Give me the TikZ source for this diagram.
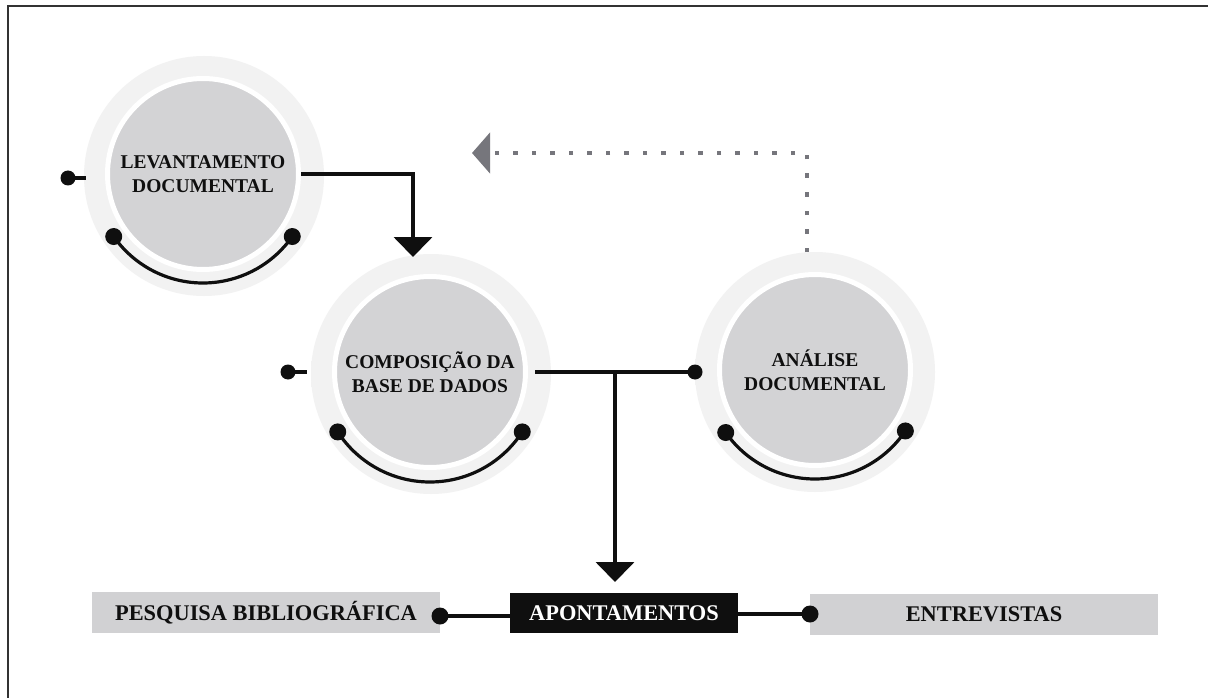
\documentclass[tikz,border=0pt]{standalone}
\usepackage{fontspec}
\setmainfont{Liberation Serif}
\usetikzlibrary{arrows.meta,calc}

\definecolor{disc}{RGB}{211,211,213}
\definecolor{tag}{RGB}{209,209,211}
\definecolor{ink}{RGB}{15,15,15}
\definecolor{dotgray}{RGB}{118,118,124}
\definecolor{frame}{RGB}{50,50,50}

% soft grey ring that fades out towards the rim
\pgfdeclareradialshading{halo}{\pgfpoint{0bp}{0bp}}{%
  color(0bp)=(black!5); color(38bp)=(black!5); color(44bp)=(black!3); color(50bp)=(white)}

\begin{document}
\begin{tikzpicture}[x=1pt,y=-1pt,
  haloring/.style={circle, shade, shading=halo, minimum size=240pt, inner sep=0pt},
  disc/.style={circle, fill=disc, draw=white, line width=5pt, minimum size=191pt,
    inner sep=0pt, align=center, text=ink,
    font=\fontsize{19.5}{23.5}\selectfont\bfseries},
  pin/.style={circle, fill=ink, inner sep=0pt, minimum size=15pt},
  bigpin/.style={circle, fill=ink, inner sep=0pt, minimum size=17pt},
  wire/.style={draw=ink, line width=4pt},
  bow/.style={draw=ink, line width=3.2pt},
  tagbox/.style={fill=tag, minimum width=348pt, minimum height=41pt, inner sep=0pt,
    text=ink, font=\fontsize{22.4}{26}\selectfont\bfseries},
  keybox/.style={fill=ink, minimum width=228pt, minimum height=40pt, inner sep=0pt,
    text=white, font=\fontsize{22.4}{26}\selectfont\bfseries},
  drop/.style={-{Triangle[width=38pt,length=20pt]}},
  backlink/.style={draw=dotgray, line width=4.5pt, dash pattern=on 4.5pt off 14pt,
    -{Triangle[width=40pt,length=18pt]}},
]
\useasboundingbox (0,0) rectangle (1208,698);
\fill[white] (0,0) rectangle (1208,698);

% page frame (top and left edges)
\draw[frame, line width=2pt] (7.5,698) -- (7.5,6.5) -- (1208,6.5);

% ---------- halos ----------
\node[haloring] (lev-h)  at (204,176) {};
\node[haloring] (comp-h) at (431,374) {};
\node[haloring] (ana-h)  at (815,372) {};

% ---------- dotted feedback link ----------
\coordinate (ana-top) at (807,252);
\coordinate (back-turn) at (807,153);
\coordinate (back-end) at (472,153);
\draw[backlink] (ana-top) -- (back-turn) -- (back-end);

% ---------- discs ----------
\node[disc] (lev)  at (203,174) {LEVANTAMENTO\\DOCUMENTAL};
\node[disc] (comp) at (430,372) {COMPOSIÇÃO DA\\BASE DE DADOS};
\node[disc] (ana)  at (815,370) {ANÁLISE\\DOCUMENTAL};

% ---------- lower arcs with end pins ----------
\coordinate (lev-a)  at ($(lev)+(145:109)$);
\coordinate (lev-b)  at ($(lev)+(35:109)$);
\coordinate (comp-a) at ($(comp)+(147:110)$);
\coordinate (comp-b) at ($(comp)+(33:110)$);
\coordinate (ana-a)  at ($(ana)+(145:109)$);
\coordinate (ana-b)  at ($(ana)+(34:109)$);
\draw[bow] (lev-a)  arc[start angle=145, end angle=35, radius=109];
\draw[bow] (comp-a) arc[start angle=147, end angle=33, radius=110];
\draw[bow] (ana-a)  arc[start angle=145, end angle=34, radius=109];
\node[bigpin] (lev-pa)  at (lev-a)  {};
\node[bigpin] (lev-pb)  at (lev-b)  {};
\node[bigpin] (comp-pa) at (comp-a) {};
\node[bigpin] (comp-pb) at (comp-b) {};
\node[bigpin] (ana-pa)  at (ana-a)  {};
\node[bigpin] (ana-pb)  at (ana-b)  {};

% ---------- left stubs ----------
\node[pin] (lev-s)  at (68,178) {};
\coordinate (lev-in) at (86,178);
\draw[wire] (lev-s.center) -- (lev-in);
\node[pin] (comp-s) at (288,372) {};
\coordinate (comp-in) at (307,372);
\draw[wire] (comp-s.center) -- (comp-in);

% ---------- flow connectors ----------
\coordinate (comp-top) at (413,257);
\draw[wire, drop] (lev.east) -| (comp-top);

\node[pin] (ana-s) at (695,372) {};
\coordinate (comp-out) at (535,372);
\coordinate (split) at (615,372);
\draw[wire] (comp-out) -- (ana-s.center);

% ---------- bottom row ----------
\node[tagbox] (pesq) at (266,612.5) {PESQUISA BIBLIOGRÁFICA};
\node[keybox] (apon) at (624,613) {APONTAMENTOS};
\node[tagbox] (entr) at (984,614) {ENTREVISTAS};
\node[bigpin] (pesq-p) at (440,616) {};
\node[bigpin] (entr-p) at (810,614) {};
\draw[wire] (pesq-p.center) -- (apon.west |- pesq-p);
\draw[wire] (apon.east |- entr-p) -- (entr-p.center);

\coordinate (apon-top) at (615,582);
\draw[wire, drop] (split) -- (apon-top);
\end{tikzpicture}
\end{document}
